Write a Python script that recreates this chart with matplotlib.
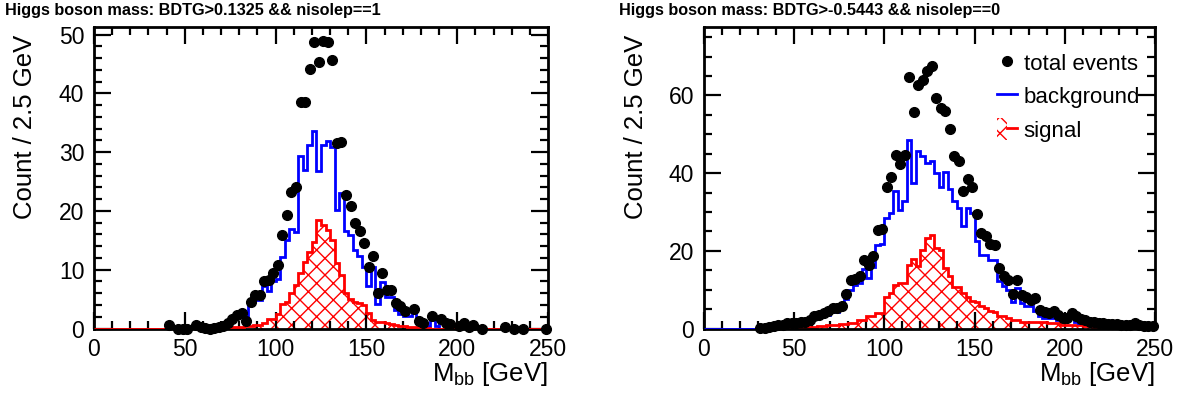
import numpy as np
import matplotlib
matplotlib.use("Agg")
import matplotlib.pyplot as plt
from matplotlib.patches import Patch
from matplotlib.lines import Line2D
from matplotlib.legend_handler import HandlerTuple
from matplotlib.ticker import MultipleLocator

plt.rcParams['font.family'] = ['Liberation Sans', 'DejaVu Sans']
plt.rcParams['mathtext.fontset'] = 'custom'
plt.rcParams['mathtext.rm'] = 'Liberation Sans'
plt.rcParams['mathtext.it'] = 'Liberation Sans:italic'
plt.rcParams['hatch.linewidth'] = 1.0

# ---------------- data (100 bins of 2.5 GeV from 0 to 250) ----------------
bin_edges = np.linspace(0, 250, 101)
nan = np.nan

titles = ["Higgs boson mass: BDTG>0.1325 && nisolep==1",
          "Higgs boson mass: BDTG>-0.5443 && nisolep==0"]
legend_labels = ["total events", "background", "signal"]

# left panel (nisolep==1)
left_bkg = [0]*20 + [0.1, 0.1, 0.2, 0.2, 0.1, 0.2, 0.2, 0.3,
            0.5, 1.1, 1.8, 2.2, 2.3, 0.8, 4.5, 4.8, 4.8, 7.3,
            6.4, 8.1, 8.5, 12.2, 15.0, 17.0, 16.4, 29.3, 27.0, 31.2,
            33.6, 26.8, 31.2, 31.9, 30.9, 20.1, 23.0, 16.6, 15.9, 13.3,
            12.4, 10.5, 7.3, 10.5, 4.2, 7.9, 5.3, 5.3, 3.1, 2.5,
            2.2, 2.2, 3.1, 1.1, 0.8, 0.5, 1.6, 0.5, 1.4, 0.6,
            0.5, 0.4, 0.4, 1.1, 0.3, 0.2, 0.1] + [0]*15
left_sig = [0]*26 + [0.05, 0.1, 0.1, 0.15, 0.2, 0.25, 0.3, 0.4,
            0.5, 0.6, 0.6, 1.0, 1.7, 1.7, 2.5, 4.1, 4.5, 6.1,
            7.4, 9.4, 11.4, 13.1, 14.8, 18.5, 17.6, 16.8, 15.1, 11.1,
            9.1, 6.0, 5.1, 4.5, 4.3, 4.0, 2.6, 1.4, 1.1, 1.1,
            0.9, 0.7, 0.6, 0.5, 0.4, 0.3, 0.2, 0.2, 0.1, 0.1] + [0]*26
left_tot = [nan]*16 + [0.6, nan, 0.0, 0.0, 0.0, nan, 0.55, 0.3,
            0.1, 0.0, 0.1, 0.2, 0.5, 0.9, 1.7, 2.3, 2.6, 1.3,
            4.5, 5.7, 5.7, 8.1, 8.2, 9.4, 10.8, 15.9, 19.3, 23.2,
            24.1, 38.6, 38.5, 44.2, 48.8, 45.3, 48.9, 48.7, 45.6, 31.6,
            31.8, 22.7, 20.9, 18.0, 16.6, 14.5, 10.4, 12.3, 6.0, 9.4,
            6.5, 6.6, 4.3, 3.9, 2.9, nan, 3.3, 1.2, 0.9, nan,
            2.1, nan, 1.7, 0.9, 0.8, nan, 0.4, 1.0, 0.3, 0.6,
            nan, 0.0, nan, nan, nan, nan, 0.2, nan, 0.0, nan,
            0.0, nan, nan, nan, nan, 0.0]

# right panel (nisolep==0)
right_bkg = [0]*12 + [0.2, 0.3, 0.5, 0.7, 0.9, 1.0, 1.8, 0.6,
             1.8, 0.8, 2.0, 2.2, 2.7, 3.4, 3.4, 3.4, 4.3, 4.3,
             5.1, 7.5, 10.0, 11.2, 11.7, 15.3, 12.9, 15.8, 21.6, 21.8,
             28.5, 29.8, 35.3, 30.6, 32.7, 48.4, 37.4, 45.6, 44.3, 42.6,
             43.2, 40.0, 36.3, 40.2, 36.0, 32.7, 31.0, 26.4, 31.0, 29.7,
             22.6, 19.0, 19.0, 17.7, 17.7, 12.3, 11.0, 10.0, 6.7, 10.4,
             6.5, 5.7, 5.7, 4.4, 3.1, 2.7, 2.7, 2.7, 2.2, 2.2,
             2.2, 3.3, 1.8, 1.4, 1.4, 1.2, 1.1, 0.9, 0.9, 0.9,
             0.8, 0.9, 0.8, 0.7, 0.6, 1.0, 0.5, 0.4, 0.4, 0.4]
right_sig = [0]*20 + [0.2, 0.3, 0.3, 0.4, 0.5, 0.6, 0.7, 0.8,
             0.9, 1.0, 1.1, 1.2, 1.3, 1.4, 2.2, 2.2, 3.1, 3.1,
             3.9, 3.9, 8.2, 9.1, 11.2, 11.7, 11.7, 16.4, 17.9, 16.2,
             20.3, 23.3, 24.1, 20.6, 20.2, 15.5, 13.4, 10.8, 10.8, 9.1,
             8.0, 7.0, 6.8, 5.7, 5.2, 4.4, 4.2, 3.2, 3.1, 2.8,
             2.2, 2.2, 1.8, 1.8, 1.8, 1.8, 1.7, 1.6, 1.4, 1.4,
             1.3, 1.0, 0.9, 0.9, 0.8, 0.8, 0.7, 0.6, 0.5, 0.5,
             0.4, 0.4, 0.3, 0.3, 0.3, 0.3, 0.2, 0.2, 0.2, 0.2,
             0.2, 0.2]
right_tot = [nan]*12 + [0.1, 0.1, 0.4, 0.7, 0.9, 1.0, 1.4, 1.3,
             1.4, 1.6, 1.8, 2.2, 3.3, 3.6, 3.9, 4.5, 5.2, 5.4,
             5.8, 9.0, 12.4, 12.8, 13.5, 17.6, 16.4, 18.7, 25.3, 25.5,
             36.4, 38.9, 44.7, 42.4, 44.7, 64.7, 55.7, 62.6, 64.0, 66.4,
             67.5, 59.3, 56.7, 55.9, 51.3, 44.3, 43.0, 35.5, 38.5, 36.4,
             29.5, 24.5, 23.7, 21.8, 21.4, 15.5, 13.6, 12.5, 9.0, 12.4,
             8.7, 8.0, 7.4, 7.8, 4.8, 4.3, 4.1, 4.5, 3.5, 2.8,
             2.6, 3.9, 3.3, 2.5, 2.2, 1.8, 1.6, 1.4, 1.3, 1.2,
             1.1, 1.2, 1.0, 1.0, 0.9, 1.3, 0.8, 0.7, 0.6, 0.6]

y_limits = [51.3, 77.6]
y_major = [10, 20]
y_minor = [2, 5]

# ---------------- figure ----------------
W, H = 1184, 396
fig = plt.figure(figsize=(W/100, H/100), dpi=100)

def fx(px):
    return px / W

bottom = 1 - 328.5/H
height = (328.5 - 27)/H
axes = [fig.add_axes([fx(94), bottom, fx(548-94), height]),
        fig.add_axes([fx(704), bottom, fx(1155-704), height])]

centers = 0.5*(bin_edges[:-1] + bin_edges[1:])
datasets = [(left_bkg, left_sig, left_tot), (right_bkg, right_sig, right_tot)]
title_x = [5, 619]
MS = 7.0

for k, ax in enumerate(axes):
    bkg, sig, tot = datasets[k]
    bkg = np.array(bkg, float); sig = np.array(sig, float); tot = np.array(tot, float)
    zb, zs = (2, 3) if k == 0 else (3, 2)
    ax.stairs(sig, bin_edges, fill=True, facecolor='none', edgecolor='#ff0000',
              hatch='xx', linewidth=0, zorder=1)
    ax.stairs(bkg, bin_edges, color='#0000ff', linewidth=2.0, zorder=zb)
    ax.stairs(sig, bin_edges, color='#ff0000', linewidth=2.0, zorder=zs)
    ax.plot(centers, tot, 'o', color='black', markersize=MS, zorder=5,
            clip_on=False, linestyle='none')

    ax.set_xlim(0, 250)
    ax.set_ylim(0, y_limits[k])
    ax.xaxis.set_major_locator(MultipleLocator(50))
    ax.xaxis.set_minor_locator(MultipleLocator(10))
    ax.yaxis.set_major_locator(MultipleLocator(y_major[k]))
    ax.yaxis.set_minor_locator(MultipleLocator(y_minor[k]))
    ax.tick_params(which='both', direction='in', top=True, right=True,
                   width=1.6, labelsize=16.5)
    ax.tick_params(which='major', length=12)
    ax.tick_params(which='minor', length=6)
    ax.tick_params(axis='x', pad=7)
    ax.tick_params(axis='y', pad=7)
    for s in ax.spines.values():
        s.set_linewidth(2.0)

    ax.set_ylabel('Count / 2.5 GeV', fontsize=18.5, loc='top')
    ax.yaxis.set_label_coords(-0.125, 0.975)
    ax.set_xlabel(r'M$_{\rm bb}$ [GeV]', fontsize=18.5, loc='right')
    ax.xaxis.set_label_coords(1.0, -0.105)

    fig.text(fx(title_x[k]), 1 - 10/H, titles[k], fontsize=11.7,
             fontweight='bold', ha='left', va='center')

# legend on right panel
h_tot = Line2D([], [], marker='o', color='black', linestyle='none', markersize=MS)
h_bkg = Line2D([], [], color='#0000ff', linewidth=2.0)
h_sig = (Patch(facecolor='none', edgecolor='#ff0000', hatch='xx', linewidth=0),
         Line2D([], [], color='#ff0000', linewidth=2.0))
axes[1].legend([h_tot, h_bkg, h_sig], legend_labels,
               handler_map={tuple: HandlerTuple(ndivide=None, pad=0)},
               loc='upper left', bbox_to_anchor=(fx(997), 1 - 52/H),
               bbox_transform=fig.transFigure, frameon=False, fontsize=16,
               handlelength=0.9, handleheight=1.1, handletextpad=0.3,
               labelspacing=0.45, borderpad=0, borderaxespad=0)

fig.savefig('out.png', dpi=100)
